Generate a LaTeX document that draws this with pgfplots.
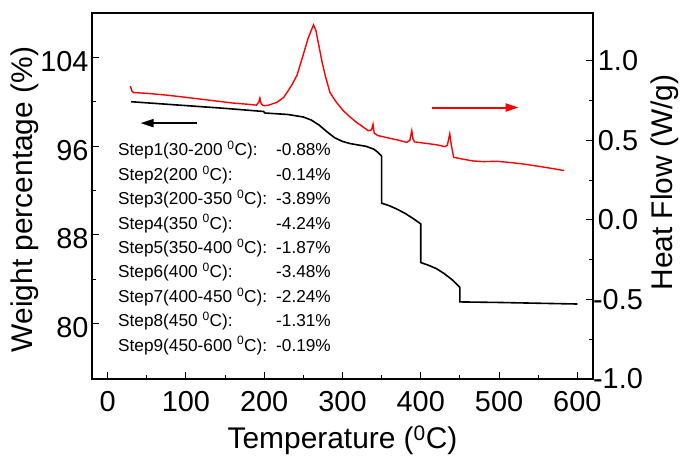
\documentclass[border=0pt]{standalone}
\usepackage{pgfplots}
\pgfplotsset{compat=1.18}
\usepackage{fontspec}
\setmainfont{Liberation Sans}
\usetikzlibrary{arrows.meta}
\begin{document}
\begin{tikzpicture}[x=1bp,y=1bp]
\useasboundingbox (0,0) rectangle (681,459);
\begin{axis}[
  at={(92bp,80bp)}, anchor=south west,
  width=501bp, height=366bp, scale only axis,
  xmin=-20, xmax=620, ymin=75, ymax=108,
  xtick={0,100,200,300,400,500,600},
  xticklabels={0,100,200,300,400,500,600},
  ytick={80,88,96,104},
  yticklabels={80,88,96,104},
  minor x tick num=1, minor y tick num=1,
  xtick pos=left, ytick pos=left, tick align=inside,
  major tick length=7bp, minor tick length=4bp,
  axis line style={line width=1.2bp},
  every tick/.style={line width=1bp, black},
  ticklabel style={font=\fontsize{29}{31}\selectfont},
  xticklabel style={yshift=-9bp},
  yticklabel style={yshift=-4bp},
]
\addplot[black, line width=1.6bp] coordinates {
(30,100.00) (60,99.85) (100,99.65) (150,99.40) (199,99.12) (201,98.98)
(230,98.85) (250,98.62) (260,98.35) (270,97.9) (280,97.3) (290,96.75)
(300,96.42) (310,96.22) (320,96.1) (330,95.98) (340,95.72) (345,95.45)
(350,95.09) (350,90.85) (360,90.62) (370,90.3) (380,89.93) (390,89.48)
(400,88.98) (400,85.50) (410,85.25) (420,84.95) (430,84.5) (440,83.95)
(450,83.26) (450,81.95) (500,81.9) (550,81.83) (600,81.76)
};
\draw[black, line width=2bp, -{Triangle[length=13bp,width=8bp]}] (axis cs:114,98.07) -- (axis cs:42,98.07);
\end{axis}
\begin{axis}[
  at={(92bp,80bp)}, anchor=south west,
  width=501bp, height=366bp, scale only axis,
  xmin=-20, xmax=620, ymin=-1, ymax=1.3,
  axis y line*=right, axis x line=none,
  ytick={-1,-0.5,0,0.5,1},
  yticklabels={-1.0,-0.5,0.0,0.5,1.0},
  minor y tick num=1, tick align=inside,
  major tick length=7bp, minor tick length=4bp,
  axis line style={line width=1.2bp},
  every tick/.style={line width=1bp, black},
  ticklabel style={font=\fontsize{29}{31}\selectfont},
  yticklabel style={anchor=center, xshift=25bp},
]
\addplot[red, line width=1.4bp] coordinates {
(29,0.84) (31,0.81) (33,0.80) (50,0.795) (75,0.784) (100,0.77) (118,0.759)
(140,0.746) (160,0.734) (180,0.726) (190,0.721) (193,0.74) (194.5,0.765)
(196,0.73) (199,0.717) (205,0.72) (216,0.738) (225,0.77) (235,0.845)
(242,0.91) (250,1.04) (256,1.14) (260,1.19) (263,1.225) (266,1.19)
(270,1.09) (274,0.99) (278,0.905) (284,0.80) (292,0.74) (301,0.686)
(310,0.645) (318,0.612) (326,0.585) (333,0.56) (337,0.565) (339,0.60)
(340.5,0.545) (345,0.53) (361,0.512) (372,0.50) (382,0.487) (386,0.50)
(388.5,0.56) (390,0.51) (392,0.49) (408,0.48) (420,0.472) (431,0.46)
(434,0.47) (437,0.54) (439,0.47) (442,0.393) (450,0.385) (467,0.370)
(480,0.366) (497,0.368) (515,0.36) (531,0.351) (550,0.337) (565,0.325)
(583,0.31)
};
\draw[red, line width=2bp, -{Triangle[length=13bp,width=8bp]}] (axis cs:414,0.706) -- (axis cs:525,0.706);
\end{axis}
% axis titles
\node[font=\fontsize{30}{32}\selectfont, anchor=base, inner sep=0] at (342.5,10) {Temperature (\textsuperscript{0}C)};
\node[font=\fontsize{30}{32}\selectfont, anchor=base, rotate=90, inner sep=0] at (32.5,259.5) {Weight percentage (\%)};
\node[font=\fontsize{30}{32}\selectfont, anchor=base, rotate=90, inner sep=0] at (672,276.5) {Heat Flow (W/g)};
% step annotations
\begin{scope}[every node/.style={font=\fontsize{17.3}{19}\selectfont, anchor=base west, inner sep=0}]
\node at (118,303) {Step1(30-200 \textsuperscript{0}C):};   \node at (276,303) {-0.88\%};
\node at (118,278.6) {Step2(200 \textsuperscript{0}C):};     \node at (276,278.6) {-0.14\%};
\node at (118,254.2) {Step3(200-350 \textsuperscript{0}C):}; \node at (276,254.2) {-3.89\%};
\node at (118,229.8) {Step4(350 \textsuperscript{0}C):};     \node at (276,229.8) {-4.24\%};
\node at (118,205.4) {Step5(350-400 \textsuperscript{0}C):}; \node at (276,205.4) {-1.87\%};
\node at (118,181) {Step6(400 \textsuperscript{0}C):};       \node at (276,181) {-3.48\%};
\node at (118,156.6) {Step7(400-450 \textsuperscript{0}C):}; \node at (276,156.6) {-2.24\%};
\node at (118,132.2) {Step8(450 \textsuperscript{0}C):};     \node at (276,132.2) {-1.31\%};
\node at (118,107.8) {Step9(450-600 \textsuperscript{0}C):}; \node at (276,107.8) {-0.19\%};
\end{scope}
\end{tikzpicture}
\end{document}
